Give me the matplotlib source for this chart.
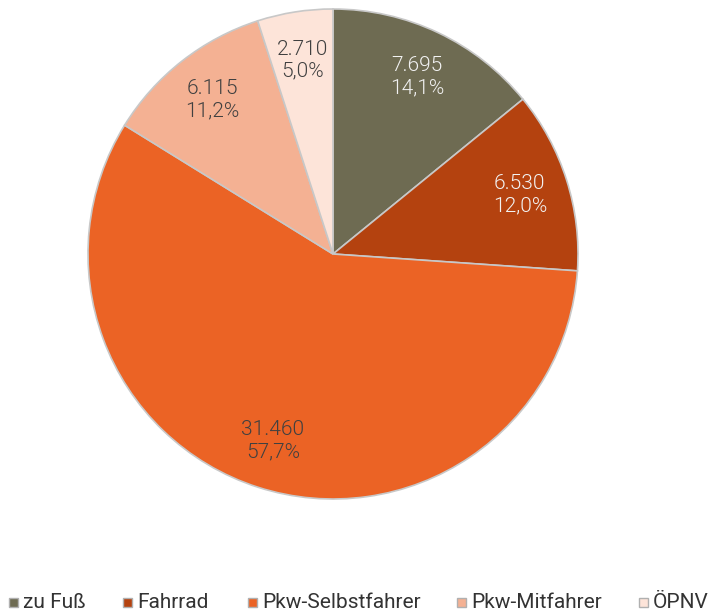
import matplotlib.pyplot as plt
from matplotlib.patches import Rectangle
import numpy as np

# Verkehrsmittel / Wege
labels = ['zu Fuß', 'Fahrrad', 'Pkw-Selbstfahrer', 'Pkw-Mitfahrer', 'ÖPNV']
values = [7695, 6530, 31460, 6115, 2710]
value_text = ['7.695', '6.530', '31.460', '6.115', '2.710']
pct_text = ['14,1%', '12,0%', '57,7%', '11,2%', '5,0%']
colors = ['#6e6b52', '#b4420f', '#eb6325', '#f4b193', '#fde4d9']
text_colors = ['#f2f2f2', '#f2f2f2', '#404040', '#404040', '#404040']

fig = plt.figure(figsize=(7.24, 6.16), dpi=100)
W, H = 724, 616
cx, cy, r = 333, 254, 245
ax = fig.add_axes([(cx - r) / W, 1 - (cy + r) / H, 2 * r / W, 2 * r / H])

wedges, _ = ax.pie(values, colors=colors, startangle=90, counterclock=False,
                   wedgeprops=dict(edgecolor='#c8c8c8', linewidth=1.2))
ax.set_xlim(-1, 1)
ax.set_ylim(-1, 1)
ax.set_aspect('equal')

total = sum(values)
angle = 90.0
for i, v in enumerate(values):
    span = 360.0 * v / total
    mid = np.deg2rad(angle - span / 2)
    angle -= span
    d = 0.80
    ax.text(d * np.cos(mid), d * np.sin(mid), value_text[i] + '\n' + pct_text[i],
            ha='center', va='center', fontsize=15, color=text_colors[i],
            family=['Roboto', 'DejaVu Sans'], fontweight=300, linespacing=1.2)

# legend, laid out by hand like the original (left edge of each entry in px)
leg_x = [9, 123, 248, 457, 639]
leg_y = 602
sq = 9
for x, c, lab in zip(leg_x, colors, labels):
    fig.patches.append(Rectangle((x / W, (H - leg_y - sq / 2) / H), sq / W, sq / H,
                                 transform=fig.transFigure, facecolor=c,
                                 edgecolor='#b0b0b0', linewidth=1))
    fig.text((x + sq + 5) / W, (H - leg_y) / H, lab, ha='left', va='center',
             fontsize=15, color='#333333', family=['Roboto', 'DejaVu Sans'])

fig.savefig('out.png', dpi=100)
